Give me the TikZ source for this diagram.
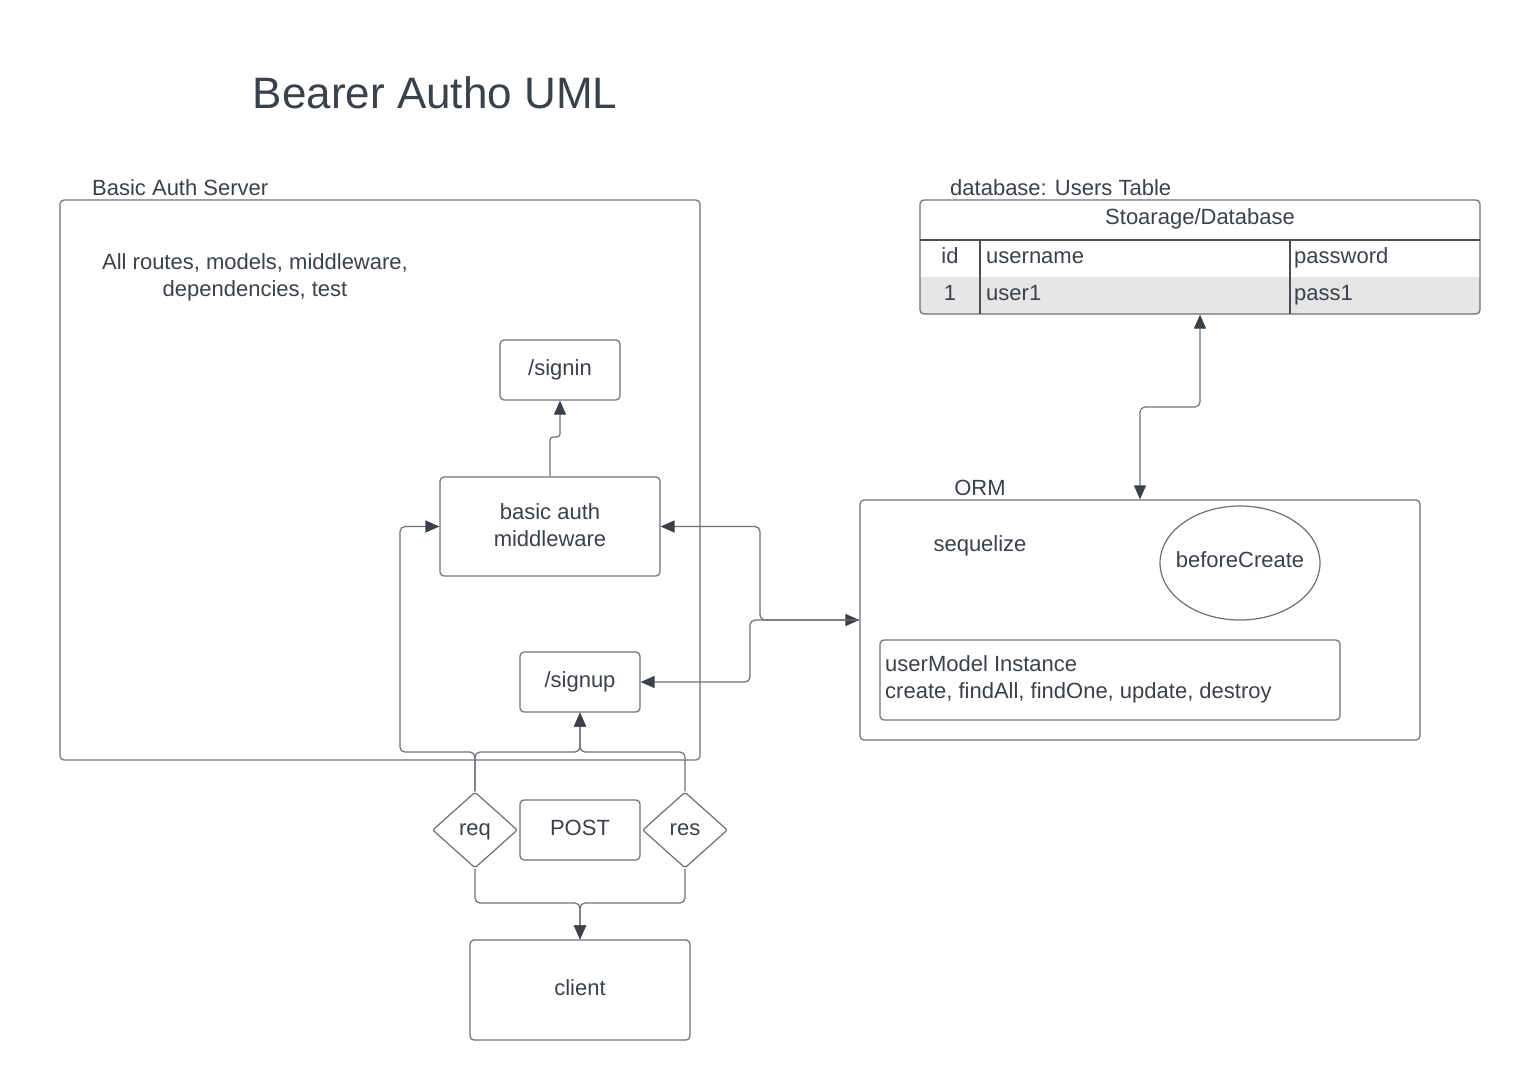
\documentclass[tikz,border=0pt]{standalone}
\usepackage{fontspec}
\setmainfont{Liberation Sans}
\usetikzlibrary{shapes.geometric,arrows.meta,calc}
\definecolor{txtC}{HTML}{3A414A}
\definecolor{lineC}{HTML}{6B7078}
\definecolor{rowC}{HTML}{E6E6E6}
\tikzset{
  base/.style={font=\fontsize{22}{27}\selectfont, text=txtC},
  fixh/.style={text height=15.8pt, text depth=4.6pt},
  box/.style={base, draw=lineC, line width=1.2pt, rounded corners=4pt, inner sep=0pt, align=center},
  lbl/.style={base, inner sep=0pt},
  slbl/.style={base, inner sep=0pt, fixh},
  conn/.style={draw=lineC, line width=1.2pt, rounded corners=5pt},
  arr/.style={conn, -{Triangle[length=14pt,width=12pt,fill=txtC,color=txtC]}},
  arrb/.style={conn, {Triangle[length=14pt,width=12pt,fill=txtC,color=txtC]}-{Triangle[length=14pt,width=12pt,fill=txtC,color=txtC]}},
  dia/.style={base, fixh, draw=lineC, line width=1.2pt, diamond, rounded corners=2pt, inner sep=0pt, minimum width=85pt, minimum height=76pt},
}
\begin{document}
\begin{tikzpicture}[x=1pt,y=-1pt]
\useasboundingbox (0,0) rectangle (1520,1080);
% title
\node[lbl, font=\fontsize{44}{50}\selectfont] (title) at (435,93) {Bearer Autho UML};
% server
\node[slbl, anchor=west] (serverlbl) at (92,190) {Basic Auth Server};
\node[box, minimum width=640pt, minimum height=560pt] (server) at (380,480) {};
\node[lbl, align=center] (alltxt) at (255,277) {All routes, models, middleware,\\dependencies, test};
\node[box, fixh, minimum width=120pt, minimum height=60pt] (si) at (560,370) {/signin};
\node[box, minimum width=220pt, minimum height=99pt] (mw) at (550,526.5) {};
\node[lbl, align=center] (mwtxt) at (550,525) {basic auth\\middleware};
\node[box, fixh, minimum width=120pt, minimum height=60pt] (su) at (580,682) {/signup};
% req / POST / res
\node[dia] (req) at (475,830) {req};
\node[box, fixh, minimum width=120pt, minimum height=60pt] (post) at (580,830) {POST};
\node[dia] (res) at (685,830) {res};
\node[box, fixh, minimum width=220pt, minimum height=100pt] (client) at (580,990) {client};
% database table
\node[slbl, anchor=west] (dblbl) at (950,190) {database: Users Table};
\begin{scope}
\clip[rounded corners=4pt] (920,200) rectangle (1480,314);
\fill[rowC] (920,277) rectangle (1480,314);
\end{scope}
\node[box, minimum width=560pt, minimum height=114pt] (tbl) at (1200,257) {};
\draw[draw=lineC!70!black, line width=1.2pt] (920,240) -- (1480,240);
\draw[draw=lineC!70!black, line width=1.2pt] (980,240) -- (980,314);
\draw[draw=lineC!70!black, line width=1.2pt] (1290,240) -- (1290,314);
\node[slbl] (thead) at (1200,219) {Stoarage/Database};
\node[slbl] (hid) at (950,258) {id};
\node[slbl, anchor=west] (huser) at (986,258) {username};
\node[slbl, anchor=west] (hpass) at (1294,258) {password};
\node[slbl] (vid) at (950,295) {1};
\node[slbl, anchor=west] (vuser) at (986,295) {user1};
\node[slbl, anchor=west] (vpass) at (1294,295) {pass1};
% ORM
\node[slbl] (ormlbl) at (980,490) {ORM};
\node[box, minimum width=560pt, minimum height=240pt] (orm) at (1140,620) {};
\node[slbl] (seq) at (980,546) {sequelize};
\node[draw=lineC, line width=1.2pt, ellipse, inner sep=0pt, minimum width=160pt, minimum height=114pt] (bc) at (1240,563) {};
\node[slbl] (bctxt) at (1240,562) {beforeCreate};
\node[box, minimum width=460pt, minimum height=80pt] (um) at (1110,680) {};
\node[lbl, align=left, anchor=west] (umtxt) at (885,679) {userModel Instance\\create, findAll, findOne, update, destroy};
% connectors
\coordinate (jt) at (580,752);
\coordinate (jl) at (400,752);
\coordinate (jb) at (580,903);
\coordinate (c1) at (760,620);
\coordinate (c2) at (750,620);
\coordinate (c3) at (1140,407);
\coordinate (c4) at (560,437);
\draw[arr] (req.north) |- (jl) |- (mw.west);
\draw[arr] (req.north) |- (jt) -- (su.south);
\draw[arr] (res.north) |- (jt) -- (su.south);
\draw[arr] (req.south) |- (jb) -- (client.north);
\draw[arr] (res.south) |- (jb) -- (client.north);
\draw[arrb] (mw.east) -| (c1) -- (orm.west);
\draw[arr] (orm.west) -- (c2) |- (su.east);
\draw[arrb] (tbl.south) |- (c3) -- (orm.north);
\draw[arr, rounded corners=3pt] (mw.north) |- (c4) -- (si.south);
\end{tikzpicture}
\end{document}
